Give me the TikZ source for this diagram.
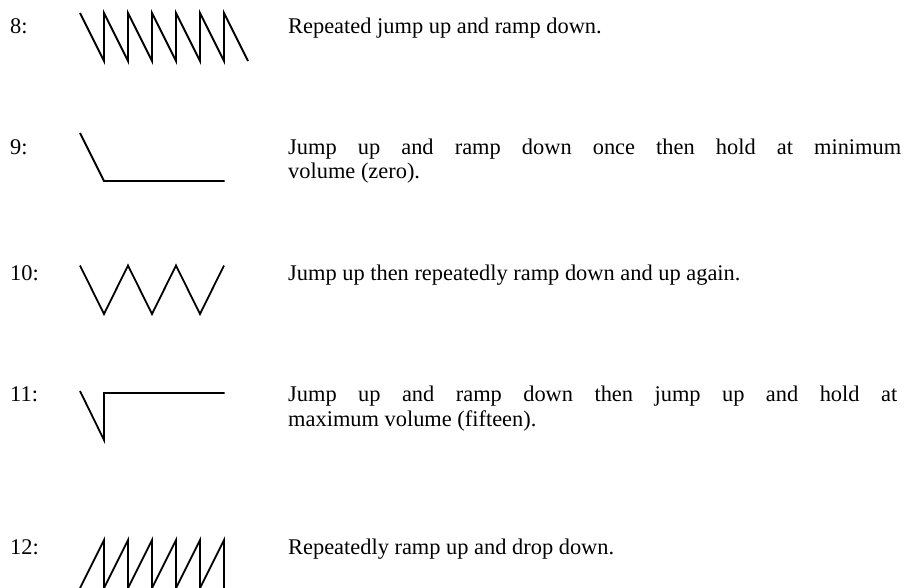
\documentclass[tikz,border=0pt]{standalone}
\usepackage{fontspec}
\setmainfont{Liberation Serif}
\begin{document}
\begin{tikzpicture}[x=1pt,y=-1pt,
  txt/.style={anchor=base west,inner sep=0pt,font=\fontsize{22.4}{25}\selectfont},
  wave/.style={line width=1.8pt,line join=miter}]
\clip (0,0) rectangle (907,587);
\fill[white] (0,0) rectangle (907,587);
% labels and texts
\node[txt] (l8) at (10,33) {8:};
\node[txt] (t8) at (288,33) {Repeated jump up and ramp down.};
\node[txt] (l9) at (10,154.5) {9:};
\node[txt] (t9a) at (288,154.5) {\makebox[613pt][s]{Jump up and ramp down once then hold at minimum}};
\node[txt] (t9b) at (288,178.5) {volume (zero).};
\node[txt] (l10) at (10,280) {10:};
\node[txt] (t10) at (288,280) {Jump up then repeatedly ramp down and up again.};
\node[txt] (l11) at (10,401) {11:};
\node[txt] (t11a) at (288,401) {\makebox[609pt][s]{Jump up and ramp down then jump up and hold at}};
\node[txt] (t11b) at (288,426.5) {maximum volume (fifteen).};
\node[txt] (l12) at (10,554.5) {12:};
\node[txt] (t12) at (288,554.5) {Repeatedly ramp up and drop down.};
% waveforms
\draw[wave] (80,13) -- (104,61) -- (104,13) -- (128,61) -- (128,13) -- (152,61) -- (152,13)
  -- (176,61) -- (176,13) -- (200,61) -- (200,13) -- (224,61) -- (224,13) -- (248,61);
\draw[wave] (80,133) -- (104,181) -- (224.5,181);
\draw[wave] (80,265.5) -- (104,314) -- (128,265.5) -- (152,314) -- (176,265.5) -- (200,314) -- (224,265.5);
\draw[wave] (80,391) -- (104,440) -- (104,393) -- (224.5,393);
\draw[wave] (80,588) -- (104,540) -- (104,588) -- (128,540) -- (128,588) -- (152,540) -- (152,588)
  -- (176,540) -- (176,588) -- (200,540) -- (200,588) -- (224,540) -- (224,588);
\end{tikzpicture}
\end{document}
